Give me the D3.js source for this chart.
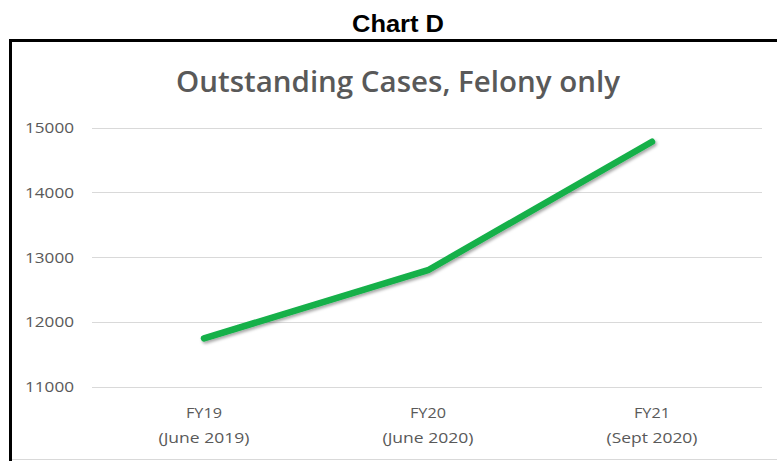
<!DOCTYPE html>
<html>
<head>
<meta charset="utf-8">
<script src="https://cdn.jsdelivr.net/npm/d3@7"></script>
<style>
html,body{margin:0;padding:0;background:#fff;}
svg{display:block;}
</style>
</head>
<body>
<svg id="chart" width="777" height="461"></svg>
<script>
const categories = [["FY19","(June 2019)"],["FY20","(June 2020)"],["FY21","(Sept 2020)"]];
const values = [11750, 12800, 14780];
const yTicks = [11000, 12000, 13000, 14000, 15000];
const pageTitle = "Chart D";
const chartTitle = "Outstanding Cases, Felony only";

const svg = d3.select("#chart");
const W = 777, H = 461;

const defs = svg.append("defs");
const f = defs.append("filter").attr("id","shadow").attr("x","-10%").attr("y","-10%").attr("width","130%").attr("height","130%");
f.append("feDropShadow").attr("dx",1.5).attr("dy",2).attr("stdDeviation",1.5).attr("flood-color","#000").attr("flood-opacity",0.35);

// page title
svg.append("text").attr("x",398).attr("y",32).attr("text-anchor","middle")
  .attr("font-family","Liberation Sans, Arial, sans-serif").attr("font-weight","bold")
  .attr("font-size",23.5).attr("fill","#000")
  .attr("textLength",92).attr("lengthAdjust","spacingAndGlyphs").text(pageTitle);

// chart frame
svg.append("line").attr("x1",10.5).attr("x2",10.5).attr("y1",39).attr("y2",H+5).attr("stroke","#000").attr("stroke-width",3);
svg.append("line").attr("x1",9).attr("x2",W+5).attr("y1",40.5).attr("y2",40.5).attr("stroke","#000").attr("stroke-width",3);
svg.append("line").attr("x1",12).attr("x2",W).attr("y1",459.5).attr("y2",459.5).attr("stroke","#d9d9d9").attr("stroke-width",1);

// chart title
svg.append("text").attr("x",398).attr("y",92).attr("text-anchor","middle")
  .attr("font-family","Open Sans, sans-serif").attr("font-weight","600")
  .attr("font-size",29).attr("fill","#595959")
  .attr("textLength",444).attr("lengthAdjust","spacingAndGlyphs")
  .text(chartTitle);

const x = d3.scaleBand().domain(categories.map(d=>d[0])).range([92,764]);
const y = d3.scaleLinear().domain([11000,15000]).range([387,127.5]);

// y axis labels
const yAxis = d3.axisLeft(y).tickValues(yTicks).tickSize(0).tickPadding(0).tickFormat(d3.format("d"));
const ga = svg.append("g").attr("transform","translate(74,0)").call(yAxis);
ga.select(".domain").remove();
ga.selectAll("text").attr("font-family","Open Sans, sans-serif").attr("font-size",15).attr("fill","#595959")
  .attr("textLength",49).attr("lengthAdjust","spacingAndGlyphs");

// gridlines
svg.append("g").selectAll("line").data(yTicks).join("line")
  .attr("x1",92).attr("x2",762).attr("y1",d=>Math.round(y(d))+0.5).attr("y2",d=>Math.round(y(d))+0.5)
  .attr("stroke","#d9d9d9").attr("stroke-width",1.2);

// x labels
const xl = svg.append("g");
categories.forEach(c=>{
  const cx = x(c[0]) + x.bandwidth()/2;
  const t = xl.append("text").attr("text-anchor","middle").attr("font-family","Open Sans, sans-serif")
    .attr("font-size",15).attr("fill","#595959");
  t.append("tspan").attr("x",cx).attr("y",417.5).attr("textLength",36).attr("lengthAdjust","spacingAndGlyphs").text(c[0]);
  t.append("tspan").attr("x",cx).attr("y",442.5).attr("textLength",91).attr("lengthAdjust","spacingAndGlyphs").text(c[1]);
});

// line
const line = d3.line().x((d,i)=>x(categories[i][0])+x.bandwidth()/2).y(d=>y(d));
svg.append("path").datum(values).attr("d",line).attr("fill","none")
  .attr("stroke","#13b04a").attr("stroke-width",6.5).attr("stroke-linecap","round").attr("stroke-linejoin","round")
  .attr("filter","url(#shadow)");
</script>
</body>
</html>
